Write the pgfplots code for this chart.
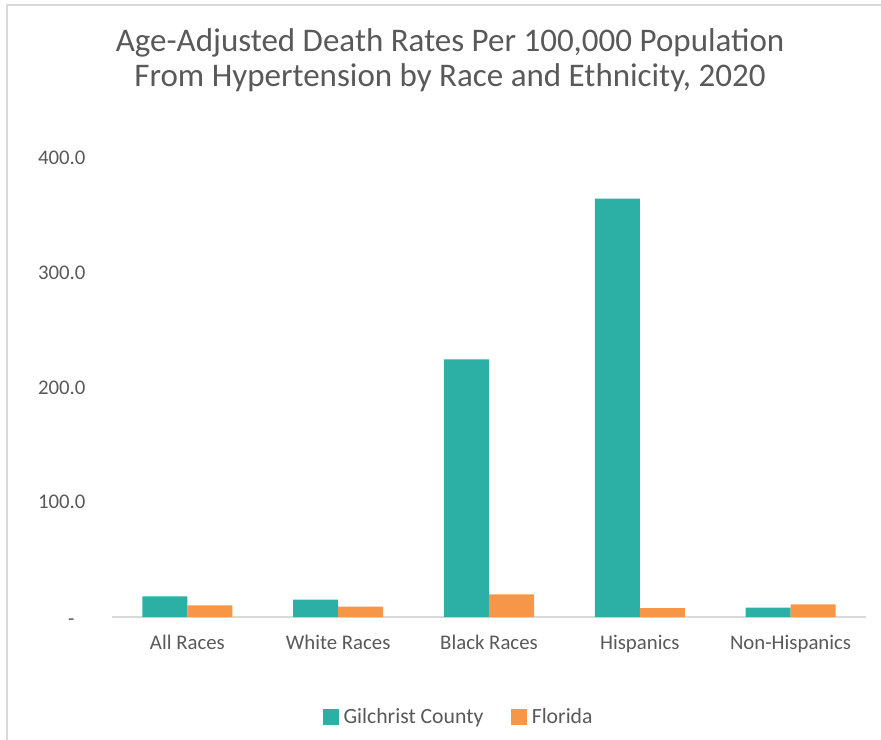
\documentclass[border=0pt]{standalone}
\usepackage{pgfplots}
\pgfplotsset{compat=1.18}
\usepackage{fontspec}
\setmainfont{Carlito}
\definecolor{gteal}{HTML}{2CB0A5}
\definecolor{forange}{HTML}{F79646}
\definecolor{txtgray}{HTML}{595959}
\definecolor{gridgray}{HTML}{D9D9D9}
\begin{document}
\begin{tikzpicture}
\useasboundingbox (-112bp,-123bp) rectangle (769bp,617bp);
\draw[gridgray, line width=2bp] (-105bp,-123bp) -- (-105bp,611.5bp) -- (769bp,611.5bp);
\begin{axis}[
  at={(0,0)}, anchor=south west,
  scale only axis,
  width=754bp, height=459bp,
  xmin=-0.5, xmax=4.5,
  ymin=0, ymax=400,
  ybar, bar width=45bp,
  axis x line*=bottom, axis y line=none,
  x axis line style={gridgray, line width=1.5bp, -},
  xtick=data,
  xticklabels={All Races, White Races, Black Races, Hispanics, Non-Hispanics},
  x tick label style={font=\fontsize{20.8bp}{24bp}\selectfont, text=txtgray, yshift=-10bp},
  xtick style={draw=none},
  ytick={0,100,200,300,400},
  ymajorgrids, grid style={gridgray, line width=1.2bp},
  clip=false,
  legend columns=2,
  legend style={draw=none, fill=none, at={(0.46,-0.218)}, anchor=center,
    font=\fontsize{21.7bp}{24bp}\selectfont, text=txtgray,
    /tikz/every odd column/.append style={column sep=3bp},
    /tikz/every even column/.append style={column sep=26bp}},
]
\addplot[fill=gteal, draw=none, bar shift=-22.5bp, forget plot] coordinates {(0,18.0) (1,15.1) (2,224.5) (3,364.5) (4,8.2)};
\addplot[fill=forange, draw=none, bar shift=22.5bp, forget plot] coordinates {(0,10.2) (1,9.0) (2,19.7) (3,7.8) (4,11.0)};
\addlegendimage{legend image code/.code={\fill[gteal] (0bp,-7.5bp) rectangle (15bp,7.5bp);}}
\addlegendentry{Gilchrist County}
\addlegendimage{legend image code/.code={\fill[forange] (0bp,-7.5bp) rectangle (15bp,7.5bp);}}
\addlegendentry{Florida}
\foreach \v/\l in {100/100.0,200/200.0,300/300.0,400/400.0}{
  \edef\tmp{\noexpand\node[anchor=east, text=txtgray, font=\noexpand\fontsize{20.8bp}{24bp}\noexpand\selectfont] at (axis cs:-0.5,\v) [xshift=-23bp] {\l};}
  \tmp
}
\node[anchor=east, text=txtgray, font=\fontsize{20.8bp}{24bp}\selectfont] at (axis cs:-0.5,0) [xshift=-34bp, yshift=-5bp] {-};
\end{axis}
\node[align=center, text=txtgray, font=\fontsize{33bp}{34.5bp}\selectfont] at (338bp,557bp) {Age-Adjusted Death Rates Per 100,000 Population\\From Hypertension by Race and Ethnicity, 2020};
\end{tikzpicture}
\end{document}
